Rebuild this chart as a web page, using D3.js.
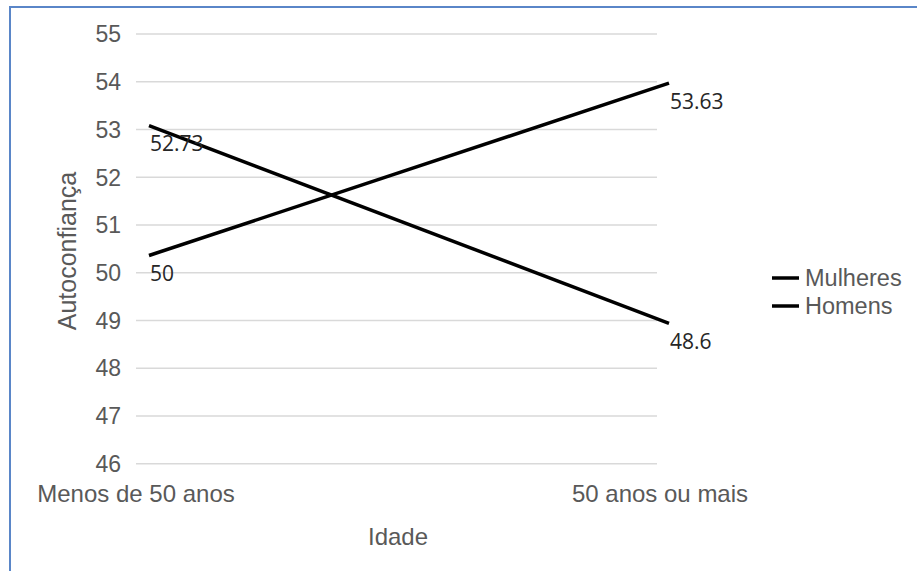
<!DOCTYPE html>
<html>
<head>
<meta charset="utf-8">
<script src="https://cdn.jsdelivr.net/npm/d3@7"></script>
<style>
  body { margin: 0; background: #fff; }
  text { font-family: "Liberation Sans", Arial, sans-serif; }
</style>
</head>
<body>
<div id="chart"></div>
<script>
const categories = ["Menos de 50 anos", "50 anos ou mais"]
const seriesNames = ["Mulheres", "Homens"]
const mulheres = [53.08, 48.94]
const homens = [50.36, 53.97]
const mulheresLabels = ["52.73", "48.6"]
const homensLabels = ["50", "53.63"]
const yTicks = [46, 47, 48, 49, 50, 51, 52, 53, 54, 55]

const W = 917, H = 571
const PLOT = { LEFT: 136, RIGHT: 657, TOP: 34, BOTTOM: 463.7 }

const svg = d3.select("#chart").append("svg")
  .attr("width", W)
  .attr("height", H)

// frame
svg.append("path")
  .attr("d", `M10,${H} L10,7 L${W},7`)
  .attr("fill", "none")
  .attr("stroke", "#5a86c8")
  .attr("stroke-width", 2)

const y = d3.scaleLinear()
  .domain([46, 55])
  .range([PLOT.BOTTOM, PLOT.TOP])

// category label positions and plotted point positions
const xAxis = d3.scalePoint()
  .domain(categories)
  .range([PLOT.LEFT, PLOT.RIGHT + 3])
const x = d3.scalePoint()
  .domain(categories)
  .range([149, 669])

// gridlines
svg.append("g").selectAll("line")
  .data(yTicks)
  .enter().append("line")
    .attr("x1", PLOT.LEFT)
    .attr("x2", PLOT.RIGHT)
    .attr("y1", d => y(d))
    .attr("y2", d => y(d))
    .attr("stroke", "#d9d9d9")
    .attr("stroke-width", 1.5)

// y tick labels
svg.append("g").selectAll("text")
  .data(yTicks)
  .enter().append("text")
    .attr("x", 121)
    .attr("y", d => y(d))
    .attr("dy", "0.36em")
    .attr("text-anchor", "end")
    .attr("fill", "#595959")
    .style("font-size", "23px")
    .text(d => d)

// x category labels
svg.append("g").selectAll("text")
  .data(categories)
  .enter().append("text")
    .attr("x", d => xAxis(d))
    .attr("y", 493)
    .attr("dy", "0.36em")
    .attr("text-anchor", "middle")
    .attr("fill", "#595959")
    .style("font-size", "24px")
    .text(d => d)

// axis titles
svg.append("text")
  .attr("x", 398)
  .attr("y", 536)
  .attr("dy", "0.36em")
  .attr("text-anchor", "middle")
  .attr("fill", "#595959")
  .style("font-size", "24px")
  .text("Idade")

svg.append("text")
  .attr("transform", `translate(67, 251) rotate(-90)`)
  .attr("dy", "0.36em")
  .attr("text-anchor", "middle")
  .attr("fill", "#595959")
  .style("font-size", "25px")
  .text("Autoconfiança")

const series = [
  { name: seriesNames[0], values: mulheres, labels: mulheresLabels },
  { name: seriesNames[1], values: homens, labels: homensLabels }
]

const line = d3.line()
  .x((d, i) => x(categories[i]))
  .y(d => y(d))

svg.append("g").selectAll("path")
  .data(series)
  .enter().append("path")
    .attr("d", d => line(d.values))
    .attr("fill", "none")
    .attr("stroke", "#000")
    .attr("stroke-width", 3.5)

// data labels
series.forEach(s => {
  svg.append("g").selectAll("text")
    .data(s.values)
    .enter().append("text")
      .attr("x", (d, i) => x(categories[i]) + 1)
      .attr("y", d => y(d) + 18)
      .attr("dy", "0.36em")
      .attr("fill", "#262626")
      .style("font-family", "'Open Sans', sans-serif")
      .style("font-size", "21px")
      .text((d, i) => s.labels[i])
})

// legend
const legend = svg.append("g")
  .attr("transform", "translate(772, 278)")

legend.selectAll("g")
  .data(seriesNames)
  .enter().append("g")
    .attr("transform", (d, i) => `translate(0, ${i * 28})`)
    .each(function (d) {
      const g = d3.select(this)
      g.append("line")
        .attr("x1", 0).attr("x2", 27)
        .attr("stroke", "#000")
        .attr("stroke-width", 3.5)
      g.append("text")
        .attr("x", 33)
        .attr("dy", "0.36em")
        .attr("fill", "#595959")
        .style("font-size", "23.5px")
        .text(d)
    })
</script>
</body>
</html>
